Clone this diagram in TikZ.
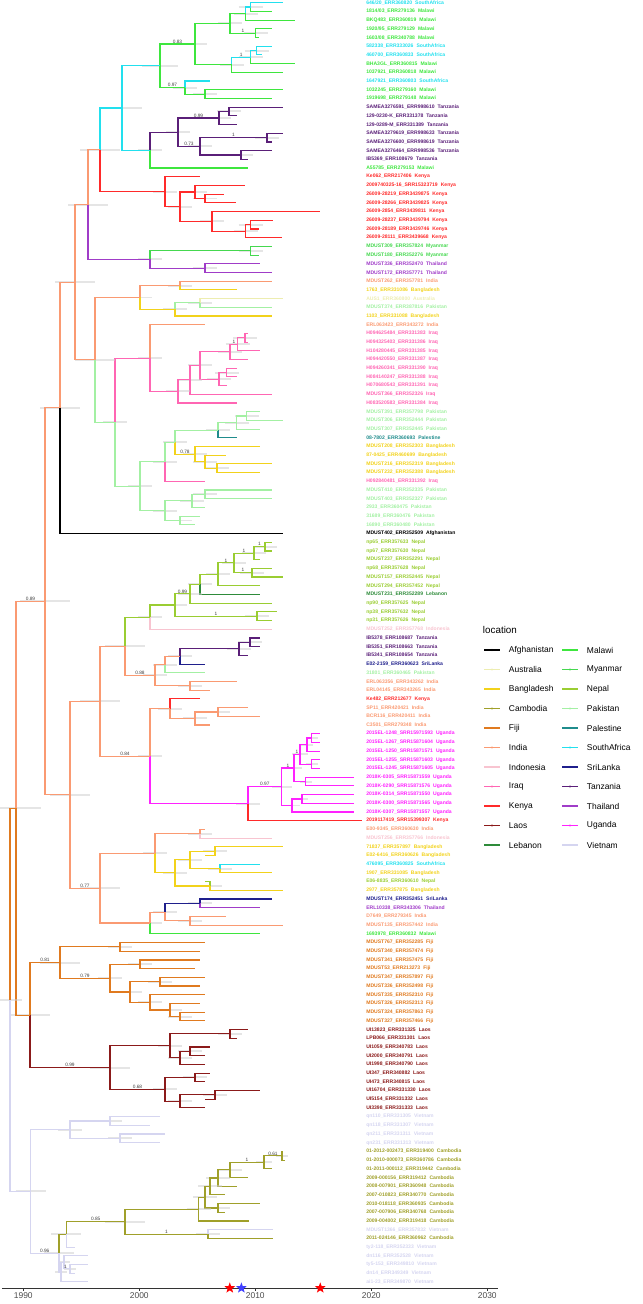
\documentclass[tikz,border=0pt]{standalone}
\usepackage{fontspec}
\setmainfont{Liberation Sans}
\usetikzlibrary{calc,shapes.geometric}

\definecolor{cAfghanistan}{HTML}{000000}
\definecolor{cAustralia}{HTML}{EDEDB0}
\definecolor{cBangladesh}{HTML}{F2D21B}
\definecolor{cCambodia}{HTML}{A0A02A}
\definecolor{cFiji}{HTML}{E07A1F}
\definecolor{cIndia}{HTML}{FA9A72}
\definecolor{cIndonesia}{HTML}{F8C4D0}
\definecolor{cIraq}{HTML}{FF66B3}
\definecolor{cKenya}{HTML}{FF2A2A}
\definecolor{cLaos}{HTML}{8B1A1A}
\definecolor{cLebanon}{HTML}{2E8B3A}
\definecolor{cMalawi}{HTML}{3EE63E}
\definecolor{cMyanmar}{HTML}{45D84F}
\definecolor{cNepal}{HTML}{9ACD32}
\definecolor{cPakistan}{HTML}{A3F0A3}
\definecolor{cPalestine}{HTML}{1F8C8C}
\definecolor{cSouthAfrica}{HTML}{22E0EE}
\definecolor{cSriLanka}{HTML}{1F1F8C}
\definecolor{cTanzania}{HTML}{5A1F78}
\definecolor{cThailand}{HTML}{A03CC8}
\definecolor{cUganda}{HTML}{FF22FF}
\definecolor{cVietnam}{HTML}{D5D5F0}

\tikzset{
  edge/.style={line width=0.8pt},
  hpd/.style={line width=1.4pt, gray!40, opacity=0.5},
  lab/.style={anchor=west, inner sep=0pt, font=\fontsize{3.6}{4}\selectfont\bfseries},
  post/.style={anchor=south, inner sep=0.3pt, font=\fontsize{3.4}{4}\selectfont, text=black!75},
  axisline/.style={line width=0.5pt, black!80},
  ticklab/.style={anchor=north, inner sep=1pt, font=\fontsize{6}{6.5}\selectfont, text=black!70},
  keyline/.style={line width=0.8pt},
  keylab/.style={anchor=west, font=\fontsize{6}{7}\selectfont},
  starmark/.style={star, star points=5, star point ratio=2.4, minimum size=8pt, inner sep=0pt}
}

% tip: row, x, location, label (labels aligned in one column)
\newcommand{\tp}[4]{\coordinate (t#1) at (#2,#1);
  \node[lab,text=c#3] (l#1) at (366,#1) {#4\hspace{0.6em}#3};}
% inner node: [hpd half width]{name}{x}{child}{colour}{child}{colour}
\newcommand{\nd}[7][12]{%
  \coordinate (h#2) at ($(#4)!.5!(#6)$);
  \coordinate (#2) at (#3,0 |- h#2);
  \draw[hpd] ({#3-#1},0 |- #2) -- ({#3+#1},0 |- #2);
  \draw[edge,c#5] (#2) |- (#4);
  \draw[edge,c#7] (#2) |- (#6);}
% posterior on the branch parent -> child
\newcommand{\pp}[4]{\node[post] (#1) at ($(#2 |- #3)!.5!(#3)$) {#4};}
% year to px
\newcommand{\yx}[1]{23.3+(#1-1990)*11.6}

\begin{document}
\begin{tikzpicture}[x=0.025cm, y=-0.025cm]
\useasboundingbox (0,0) rectangle (643,1304);

\begin{scope}[y=-0.2175cm, yshift=0.15cm]
% tips
\tp{1}{283}{SouthAfrica}{646/20\_ERR360820}
\tp{2}{272}{Malawi}{1814/03\_ERR279136}
\tp{3}{295}{Malawi}{BKQ483\_ERR360819}
\tp{4}{272}{Malawi}{1920/95\_ERR279129}
\tp{5}{259}{Malawi}{1603/08\_ERR340788}
\tp{6}{272}{SouthAfrica}{582338\_ERR333026}
\tp{7}{262}{SouthAfrica}{460700\_ERR360833}
\tp{8}{295}{Malawi}{BHA3GL\_ERR360815}
\tp{9}{283}{Malawi}{1037921\_ERR360818}
\tp{10}{210}{SouthAfrica}{1647921\_ERR360803}
\tp{11}{283}{Malawi}{1032245\_ERR279160}
\tp{12}{272}{Malawi}{1919698\_ERR279148}
\tp{13}{283}{Tanzania}{SAMEA3276591\_ERR998610}
\tp{14}{237}{Tanzania}{129-0230-K\_ERR331378}
\tp{15}{237}{Tanzania}{129-0289-M\_ERR331389}
\tp{16}{283}{Tanzania}{SAMEA3279619\_ERR998633}
\tp{17}{272}{Tanzania}{SAMEA3276600\_ERR998619}
\tp{18}{272}{Tanzania}{SAMEA3276464\_ERR998536}
\tp{19}{248}{Tanzania}{IB5369\_ERR108679}
\tp{20}{248}{Malawi}{A55785\_ERR279153}
\tp{21}{200}{Kenya}{Ke062\_ERR217406}
\tp{22}{245}{Kenya}{2009740325-16\_SRR15323719}
\tp{23}{224}{Kenya}{26009-28219\_ERR3439875}
\tp{24}{236}{Kenya}{26009-28266\_ERR3439825}
\tp{25}{320}{Kenya}{26009-2854\_ERR3439811}
\tp{26}{273}{Kenya}{26009-28237\_ERR3439794}
\tp{27}{259}{Kenya}{26009-28189\_ERR3439746}
\tp{28}{282}{Kenya}{26009-28111\_ERR3439668}
\tp{29}{272}{Myanmar}{MDUST309\_ERR357824}
\tp{30}{259}{Myanmar}{MDUST180\_ERR352276}
\tp{31}{260}{Thailand}{MDUST336\_ERR352470}
\tp{32}{272}{Thailand}{MDUST172\_ERR357771}
\tp{33}{272}{India}{MDUST262\_ERR357781}
\tp{34}{237}{Bangladesh}{1763\_ERR331086}
\tp{35}{283}{Australia}{AUS1\_ERR360800}
\tp{36}{272}{Pakistan}{MDUST374\_ERR387816}
\tp{37}{272}{Bangladesh}{1103\_ERR331088}
\tp{38}{205}{India}{ERL063423\_ERR343272}
\tp{39}{248}{Iraq}{H094625484\_ERR331383}
\tp{40}{248}{Iraq}{H094325403\_ERR331386}
\tp{41}{260}{Iraq}{H104280445\_ERR331385}
\tp{42}{248}{Iraq}{H094420550\_ERR331387}
\tp{43}{237}{Iraq}{H094260341\_ERR331390}
\tp{44}{237}{Iraq}{H084140247\_ERR331388}
\tp{45}{227}{Iraq}{H070680543\_ERR331391}
\tp{46}{272}{Iraq}{MDUST366\_ERR352326}
\tp{47}{237}{Iraq}{H083520583\_ERR331384}
\tp{48}{260}{Pakistan}{MDUST391\_ERR357798}
\tp{49}{283}{Pakistan}{MDUST306\_ERR352444}
\tp{50}{260}{Pakistan}{MDUST307\_ERR352445}
\tp{51}{237}{Palestine}{08-7802\_ERR360693}
\tp{52}{260}{Bangladesh}{MDUST208\_ERR352303}
\tp{53}{226}{Bangladesh}{87-0425\_ERR460699}
\tp{54}{272}{Bangladesh}{MDUST216\_ERR352319}
\tp{55}{260}{Bangladesh}{MDUST232\_ERR352388}
\tp{56}{205}{Iraq}{H092840481\_ERR331392}
\tp{57}{272}{Pakistan}{MDUST410\_ERR352335}
\tp{58}{272}{Pakistan}{MDUST403\_ERR352327}
\tp{59}{205}{Pakistan}{2933\_ERR360475}
\tp{60}{200}{Pakistan}{31689\_ERR360476}
\tp{61}{195}{Pakistan}{16890\_ERR360480}
\tp{62}{283}{Afghanistan}{MDUST402\_ERR352509}
\tp{63}{272}{Nepal}{np65\_ERR357633}
\tp{64}{272}{Nepal}{np67\_ERR357630}
\tp{65}{260}{Nepal}{MDUST237\_ERR352291}
\tp{66}{272}{Nepal}{np68\_ERR357628}
\tp{67}{283}{Nepal}{MDUST157\_ERR352445}
\tp{68}{260}{Nepal}{MDUST294\_ERR357452}
\tp{69}{260}{Lebanon}{MDUST231\_ERR352289}
\tp{70}{272}{Nepal}{np90\_ERR357625}
\tp{71}{277}{Nepal}{np38\_ERR357632}
\tp{72}{272}{Nepal}{np31\_ERR357626}
\tp{73}{272}{Indonesia}{MDUST252\_ERR357768}
\tp{74}{260}{Tanzania}{IB5378\_ERR108687}
\tp{75}{260}{Tanzania}{IB5351\_ERR108663}
\tp{76}{248}{Tanzania}{IB5341\_ERR108654}
\tp{77}{205}{SriLanka}{E02-2159\_ERR360623}
\tp{78}{205}{Pakistan}{31801\_ERR360465}
\tp{79}{237}{India}{ERL063356\_ERR343262}
\tp{80}{210}{India}{ERL04145\_ERR343265}
\tp{81}{200}{Kenya}{Ke482\_ERR212677}
\tp{82}{248}{India}{SP11\_ERR420421}
\tp{83}{260}{India}{BCR116\_ERR420411}
\tp{84}{210}{India}{C3501\_ERR279348}
\tp{85}{320}{Uganda}{2015EL-1248\_SRR15971593}
\tp{86}{320}{Uganda}{2015EL-1267\_SRR15871604}
\tp{87}{320}{Uganda}{2015EL-1250\_SRR15871571}
\tp{88}{320}{Uganda}{2015EL-1255\_SRR15871603}
\tp{89}{320}{Uganda}{2015EL-1245\_SRR15871605}
\tp{90}{354}{Uganda}{2018K-0305\_SRR15871559}
\tp{91}{354}{Uganda}{2018K-0290\_SRR15871576}
\tp{92}{354}{Uganda}{2018K-0314\_SRR15871550}
\tp{93}{354}{Uganda}{2018K-0300\_SRR15871565}
\tp{94}{354}{Uganda}{2018K-0307\_SRR15871557}
\tp{95}{362}{Kenya}{2019117419\_SRR15399307}
\tp{96}{205}{India}{E00-9345\_ERR360630}
\tp{97}{272}{Indonesia}{MDUST256\_ERR357766}
\tp{98}{283}{Bangladesh}{71837\_ERR357897}
\tp{99}{205}{Bangladesh}{E02-6416\_ERR360626}
\tp{100}{260}{SouthAfrica}{476095\_ERR360825}
\tp{101}{272}{Bangladesh}{1907\_ERR331085}
\tp{102}{205}{Nepal}{E06-8835\_ERR360610}
\tp{103}{283}{Bangladesh}{2977\_ERR357875}
\tp{104}{272}{SriLanka}{MDUST174\_ERR352451}
\tp{105}{260}{Thailand}{ERL10338\_ERR343306}
\tp{106}{226}{India}{D7649\_ERR279345}
\tp{107}{283}{India}{MDUST135\_ERR357442}
\tp{108}{260}{Malawi}{1693978\_ERR360832}
\tp{109}{205}{Fiji}{MDUST767\_ERR352285}
\tp{110}{200}{Fiji}{MDUST340\_ERR357474}
\tp{111}{200}{Fiji}{MDUST341\_ERR357475}
\tp{112}{195}{Fiji}{MDUST53\_ERR213273}
\tp{113}{205}{Fiji}{MDUST347\_ERR357897}
\tp{114}{200}{Fiji}{MDUST336\_ERR352498}
\tp{115}{205}{Fiji}{MDUST335\_ERR352310}
\tp{116}{200}{Fiji}{MDUST326\_ERR352313}
\tp{117}{205}{Fiji}{MDUST324\_ERR357863}
\tp{118}{205}{Fiji}{MDUST327\_ERR357466}
\tp{119}{248}{Laos}{UI13823\_ERR331325}
\tp{120}{237}{Laos}{LPB066\_ERR331301}
\tp{121}{210}{Laos}{UI1059\_ERR340783}
\tp{122}{205}{Laos}{UI2000\_ERR340791}
\tp{123}{205}{Laos}{UI1998\_ERR340790}
\tp{124}{210}{Laos}{UI347\_ERR340882}
\tp{125}{205}{Laos}{UI473\_ERR340815}
\tp{126}{260}{Laos}{UI16704\_ERR331330}
\tp{127}{205}{Laos}{UI5154\_ERR331332}
\tp{128}{205}{Laos}{UI3398\_ERR331333}
\tp{129}{160}{Vietnam}{qn110\_ERR331305}
\tp{130}{150}{Vietnam}{qn118\_ERR331307}
\tp{131}{165}{Vietnam}{qn211\_ERR331311}
\tp{132}{160}{Vietnam}{qn231\_ERR331313}
\tp{133}{283}{Cambodia}{01-2012-002473\_ERR319400}
\tp{134}{285}{Cambodia}{01-2010-000073\_ERR360786}
\tp{135}{272}{Cambodia}{01-2011-000112\_ERR319442}
\tp{136}{248}{Cambodia}{2009-000156\_ERR319412}
\tp{137}{237}{Cambodia}{2008-007901\_ERR360948}
\tp{138}{225}{Cambodia}{2007-010823\_ERR340770}
\tp{139}{260}{Cambodia}{2010-018118\_ERR360935}
\tp{140}{225}{Cambodia}{2007-007906\_ERR340768}
\tp{141}{249}{Cambodia}{2009-004002\_ERR319418}
\tp{142}{273}{Vietnam}{MDUST1366\_ERR357832}
\tp{143}{273}{Cambodia}{2011-024146\_ERR360962}
\tp{144}{75}{Vietnam}{ty2-118\_ERR352333}
\tp{145}{88}{Vietnam}{dn116\_ERR352528}
\tp{146}{88}{Vietnam}{ty5-153\_ERR349810}
\tp{147}{75}{Vietnam}{dn14\_ERR349349}
\tp{148}{88}{Vietnam}{ai1-23\_ERR349870}

% Malawi and South Africa
\nd{P1}{250.7}{t1}{SouthAfrica}{t2}{Malawi}
\nd{P2}{245.7}{P1}{SouthAfrica}{t3}{Malawi}
\nd{P4}{255.7}{t4}{Malawi}{t5}{Malawi}
\nd{P3}{230}{P2}{Malawi}{P4}{Malawi}
\nd{Q1}{256.7}{t6}{SouthAfrica}{t7}{SouthAfrica}
\nd{Q2}{250.7}{Q1}{SouthAfrica}{t8}{Malawi}
\nd{Q3}{231.7}{Q2}{SouthAfrica}{t9}{Malawi}
\nd{R1}{195}{P3}{Malawi}{Q3}{Malawi}
\nd{R3}{205}{t11}{Malawi}{t12}{Malawi}
\nd{R2}{185}{t10}{SouthAfrica}{R3}{Malawi}
\nd[18]{R0}{160}{R1}{Malawi}{R2}{Malawi}
% Tanzania
\nd{T1}{229}{t13}{Tanzania}{t14}{Tanzania}
\nd{T2}{219}{T1}{Tanzania}{t15}{Tanzania}
\nd{T3}{267}{t16}{Tanzania}{t17}{Tanzania}
\nd{T4}{241}{t18}{Tanzania}{t19}{Tanzania}
\nd{T5}{200}{T3}{Tanzania}{T4}{Tanzania}
\nd{T6}{178}{T2}{Tanzania}{T5}{Tanzania}
\nd{T7}{150}{T6}{Tanzania}{t20}{Malawi}
\nd[20]{AF}{122}{R0}{SouthAfrica}{T7}{SouthAfrica}
% Kenya
\nd{K1}{250.7}{t26}{Kenya}{t27}{Kenya}
\nd{K2}{245.7}{K1}{Kenya}{t28}{Kenya}
\nd{K7}{212}{t25}{Kenya}{K2}{Kenya}
\nd{K5}{205}{t23}{Kenya}{t24}{Kenya}
\nd{K6}{195}{t22}{Kenya}{K5}{Kenya}
\nd{K8}{180}{K6}{Kenya}{K7}{Kenya}
\nd{KE}{165}{t21}{Kenya}{K8}{Kenya}
\nd[20]{AK}{100}{AF}{SouthAfrica}{KE}{Kenya}
\nd{M1}{250.7}{t29}{Myanmar}{t30}{Myanmar}
\nd{TH}{205}{t31}{Thailand}{t32}{Thailand}
\nd{MT}{150}{M1}{Myanmar}{TH}{Thailand}
\nd[20]{S1}{88}{AK}{India}{MT}{Thailand}
% India, Iraq, Pakistan, Bangladesh
\nd{G1}{180}{t33}{India}{t34}{Bangladesh}
\nd{G2}{200}{t35}{Australia}{t36}{Pakistan}
\nd{G3}{175}{G2}{Pakistan}{t37}{Bangladesh}
\nd{G4}{140}{G1}{India}{G3}{Bangladesh}
\nd{I1}{245}{t39}{Iraq}{t40}{Iraq}
\nd{I2}{237.7}{I1}{Iraq}{t41}{Iraq}
\nd{I3}{230}{I2}{Iraq}{t42}{Iraq}
\nd{I4}{226.7}{t43}{Iraq}{t44}{Iraq}
\nd{I5}{219}{I4}{Iraq}{t45}{Iraq}
\nd{I6}{200}{I3}{Iraq}{I5}{Iraq}
\nd{I7}{190}{I6}{Iraq}{t46}{Iraq}
\nd{I8}{178}{I7}{Iraq}{t47}{Iraq}
\nd{IQ}{150}{t38}{India}{I8}{Iraq}
\nd{PK1}{246.7}{t48}{Pakistan}{t49}{Pakistan}
\nd{PK2}{236.7}{PK1}{Pakistan}{t50}{Pakistan}
\nd{PK3}{218}{PK2}{Pakistan}{t51}{Palestine}
\nd{B0}{217}{t54}{Bangladesh}{t55}{Bangladesh}
\nd{B1}{205}{t53}{Bangladesh}{B0}{Bangladesh}
\nd{B2}{195}{t52}{Bangladesh}{B1}{Bangladesh}
\nd{PB}{175}{PK3}{Pakistan}{B2}{Bangladesh}
\nd{PB2}{165}{PB}{Pakistan}{t56}{Iraq}
\nd{PK4}{205}{t57}{Pakistan}{t58}{Pakistan}
\nd{PK5}{192}{PK4}{Pakistan}{t59}{Pakistan}
\nd{PK6}{180}{t60}{Pakistan}{t61}{Pakistan}
\nd{PK7}{165}{PK5}{Pakistan}{PK6}{Pakistan}
\nd{PB3}{140}{PB2}{Pakistan}{PK7}{Pakistan}
\nd{IP}{115}{IQ}{Iraq}{PB3}{Pakistan}
\nd[20]{G5}{95}{G4}{India}{IP}{Pakistan}
\nd[20]{S2}{75}{S1}{India}{G5}{India}
\nd[20]{S3}{60}{S2}{India}{t62}{Afghanistan}
% Nepal, Tanzania, India
\nd{N5}{265}{t63}{Nepal}{t64}{Nepal}
\nd{N3}{254}{N5}{Nepal}{t65}{Nepal}
\nd{N4}{252}{t66}{Nepal}{t67}{Nepal}
\nd{N2}{234}{N3}{Nepal}{N4}{Nepal}
\nd{N1}{218}{N2}{Nepal}{t68}{Nepal}
\nd{N7}{200}{N1}{Nepal}{t69}{Lebanon}
\nd{N8}{190}{N7}{Nepal}{t70}{Nepal}
\nd{N6}{257}{t71}{Nepal}{t72}{Nepal}
\nd{N9}{175}{N8}{Nepal}{N6}{Nepal}
\nd{NP}{150}{N9}{Nepal}{t73}{Indonesia}
\nd{Tz2}{250}{t74}{Tanzania}{t75}{Tanzania}
\nd{Tz1}{239}{Tz2}{Tanzania}{t76}{Tanzania}
\nd{TS}{180}{Tz1}{Tanzania}{t77}{SriLanka}
\nd{TP}{165}{TS}{India}{t78}{Pakistan}
\nd{J1}{190}{t79}{India}{t80}{India}
\nd{J2}{155}{TP}{India}{J1}{India}
\nd[20]{NJ}{125}{NP}{Nepal}{J2}{India}
\nd{SPB}{218}{t82}{India}{t83}{India}
\nd{J3}{195}{SPB}{India}{t84}{India}
\nd{J4}{170}{t81}{Kenya}{J3}{India}
% Uganda
\nd[6]{Ua1}{311.7}{t85}{Uganda}{t86}{Uganda}
\nd[6]{Ua2}{307}{Ua1}{Uganda}{t87}{Uganda}
\nd[6]{Ua3}{311.7}{t88}{Uganda}{t89}{Uganda}
\nd[8]{Ua}{300}{Ua2}{Uganda}{Ua3}{Uganda}
\nd[6]{U4}{305.7}{t90}{Uganda}{t91}{Uganda}
\nd[8]{U2}{294}{Ua}{Uganda}{U4}{Uganda}
\nd[6]{U6}{302}{t92}{Uganda}{t93}{Uganda}
\nd[8]{U5}{292}{U6}{Uganda}{t94}{Uganda}
\nd[10]{U1}{281.7}{U2}{Uganda}{U5}{Uganda}
\nd{U0}{248}{U1}{Uganda}{t95}{Kenya}
\nd{J5}{150}{J4}{India}{U0}{Uganda}
\nd[20]{J6}{100}{NJ}{India}{J5}{India}
% India, Bangladesh
\nd{Y1}{200}{t96}{India}{t97}{Indonesia}
\nd{Y2}{215}{t98}{Bangladesh}{t99}{Bangladesh}
\nd{Y3}{220}{t100}{SouthAfrica}{t101}{Bangladesh}
\nd{Y4}{190}{Y2}{Bangladesh}{Y3}{Bangladesh}
\nd{Y5}{210}{t102}{Nepal}{t103}{Bangladesh}
\nd{Y6}{175}{Y4}{Bangladesh}{Y5}{Bangladesh}
\nd{Y7}{155}{Y1}{India}{Y6}{Bangladesh}
\nd{Y8}{200}{t104}{SriLanka}{t105}{Thailand}
\nd{Y9}{190}{t106}{India}{t107}{India}
\nd{Y10}{165}{Y8}{SriLanka}{Y9}{India}
\nd{Y11}{150}{Y10}{India}{t108}{Malawi}
\nd[20]{Y12}{100}{Y7}{India}{Y11}{India}
\nd[20]{S4}{70}{J6}{India}{Y12}{India}
\nd[25]{UP}{45}{S3}{India}{S4}{India}
% Fiji
\nd{F1}{180}{t117}{Fiji}{t118}{Fiji}
\nd{F2}{170}{t116}{Fiji}{F1}{Fiji}
\nd{F3}{150}{t115}{Fiji}{F2}{Fiji}
\nd{F4}{160}{t113}{Fiji}{t114}{Fiji}
\nd{F5}{130}{F4}{Fiji}{F3}{Fiji}
\nd{F6}{140}{t111}{Fiji}{t112}{Fiji}
\nd{F7}{110}{F6}{Fiji}{F5}{Fiji}
\nd{F8}{120}{t109}{Fiji}{t110}{Fiji}
\nd[20]{F9}{60}{F8}{Fiji}{F7}{Fiji}
% Laos
\nd{L1}{230}{t119}{Laos}{t120}{Laos}
\nd{L2}{190}{t121}{Laos}{t122}{Laos}
\nd{L3}{180}{L2}{Laos}{t123}{Laos}
\nd{L4}{170}{L1}{Laos}{L3}{Laos}
\nd{L5}{195}{t124}{Laos}{t125}{Laos}
\nd{L6}{215}{t126}{Laos}{t127}{Laos}
\nd{L7}{180}{L6}{Laos}{t128}{Laos}
\nd{L8}{165}{L5}{Laos}{L7}{Laos}
\nd[20]{LA}{110}{L4}{Laos}{L8}{Laos}
\nd[20]{FL}{30}{F9}{Fiji}{LA}{Laos}
\nd[25]{MAIN}{16}{UP}{India}{FL}{Fiji}
% Vietnam, Cambodia
\nd{V1}{110}{t129}{Vietnam}{t130}{Vietnam}
\nd{V2}{120}{t131}{Vietnam}{t132}{Vietnam}
\nd{V3}{70}{V1}{Vietnam}{V2}{Vietnam}
\nd[6]{C1}{282}{t133}{Cambodia}{t134}{Cambodia}
\nd[8]{C2}{264}{C1}{Cambodia}{t135}{Cambodia}
\nd{C4}{230}{C2}{Cambodia}{t136}{Cambodia}
\nd{C5}{218}{C4}{Cambodia}{t137}{Cambodia}
\nd{C6}{210}{C5}{Cambodia}{t138}{Cambodia}
\nd{C7}{218}{t139}{Cambodia}{t140}{Cambodia}
\nd{C8}{205}{C6}{Cambodia}{C7}{Cambodia}
\nd{C9}{198.5}{C8}{Cambodia}{t141}{Cambodia}
\nd{C11}{208}{t142}{Vietnam}{t143}{Cambodia}
\nd[20]{C10}{125}{C9}{Cambodia}{C11}{Cambodia}
\nd[15]{CB}{66.4}{C10}{Cambodia}{t144}{Vietnam}
\nd[6]{VVa}{70}{t146}{Vietnam}{t147}{Vietnam}
\nd[6]{VVb}{64}{t145}{Vietnam}{VVa}{Vietnam}
\nd[6]{VV}{61}{VVb}{Vietnam}{t148}{Vietnam}
\nd[15]{VC1}{59}{CB}{Cambodia}{VV}{Vietnam}
\nd[15]{VC}{30.5}{V3}{Vietnam}{VC1}{Vietnam}
\nd[12]{ROOT}{10}{MAIN}{Fiji}{VC}{Vietnam}

% posterior support
\pp{s1}{P3}{P4}{1}
\pp{s2}{Q3}{Q2}{1}
\pp{s3}{R0}{R1}{0.83}
\pp{s4}{R0}{R2}{0.97}
\pp{s5}{T6}{T2}{0.99}
\pp{s6}{T6}{T5}{0.73}
\pp{s7}{T5}{T3}{1}
\pp{s8}{I3}{I2}{1}
\pp{s9}{PB}{B2}{0.78}
\pp{s10}{N1}{N2}{1}
\pp{s11}{N2}{N3}{1}
\pp{s12}{N3}{N5}{1}
\pp{s13}{N2}{N4}{1}
\pp{s14}{N9}{N6}{1}
\pp{s15}{N9}{N8}{0.99}
\pp{s16}{NJ}{J2}{0.88}
\pp{s17}{J6}{J5}{0.84}
\pp{s18}{U0}{U1}{0.97}
\pp{s19}{U1}{U2}{1}
\pp{s20}{U2}{Ua}{1}
\pp{s21}{S4}{Y12}{0.77}
\pp{s22}{MAIN}{UP}{0.89}
\pp{s23}{FL}{F9}{0.81}
\pp{s24}{F9}{F7}{0.79}
\pp{s25}{FL}{LA}{0.99}
\pp{s26}{LA}{L8}{0.68}
\pp{s27}{C2}{C1}{0.61}
\pp{s28}{C4}{C2}{1}
\pp{s29}{CB}{C10}{0.85}
\pp{s30}{C10}{C11}{1}
\pp{s31}{VC}{VC1}{0.96}
\pp{s32}{VV}{VVa}{1}
\end{scope}

% time axis
\draw[axisline] (2,1288) coordinate (ax0) -- (498,1288) coordinate (ax1);
\foreach \yy in {1990,2000,...,2030}{
  \draw[axisline] ({\yx{\yy}},1288) -- ({\yx{\yy}},1291);
  \node[ticklab] (tk\yy) at ({\yx{\yy}},1290.5) {\yy};
}
\node[starmark, fill=red] (st1) at ({\yx{2007.8}},1288) {};
\node[starmark, fill=blue!75] (st2) at ({\yx{2008.8}},1288) {};
\node[starmark, fill=red] (st3) at ({\yx{2015.6}},1288) {};

% legend
\node[anchor=west, font=\fontsize{7}{8}\selectfont] (lgt) at (478,630) {location};
\foreach \cc [count=\i from 0] in {Afghanistan,Australia,Bangladesh,Cambodia,Fiji,India,Indonesia,Iraq,Kenya,Laos,Lebanon}{
  \draw[keyline,c\cc] (484,{650+\i*19.5}) -- (500,{650+\i*19.5});
  \fill[c\cc] (492,{650+\i*19.5}) circle (1.2);
  \node[keylab] (ka\i) at (504,{650+\i*19.5}) {\cc};
}
\foreach \cc [count=\i from 0] in {Malawi,Myanmar,Nepal,Pakistan,Palestine,SouthAfrica,SriLanka,Tanzania,Thailand,Uganda,Vietnam}{
  \draw[keyline,c\cc] (562,{650+\i*19.5}) -- (578,{650+\i*19.5});
  \fill[c\cc] (570,{650+\i*19.5}) circle (1.2);
  \node[keylab] (kb\i) at (582,{650+\i*19.5}) {\cc};
}
\end{tikzpicture}
\end{document}
